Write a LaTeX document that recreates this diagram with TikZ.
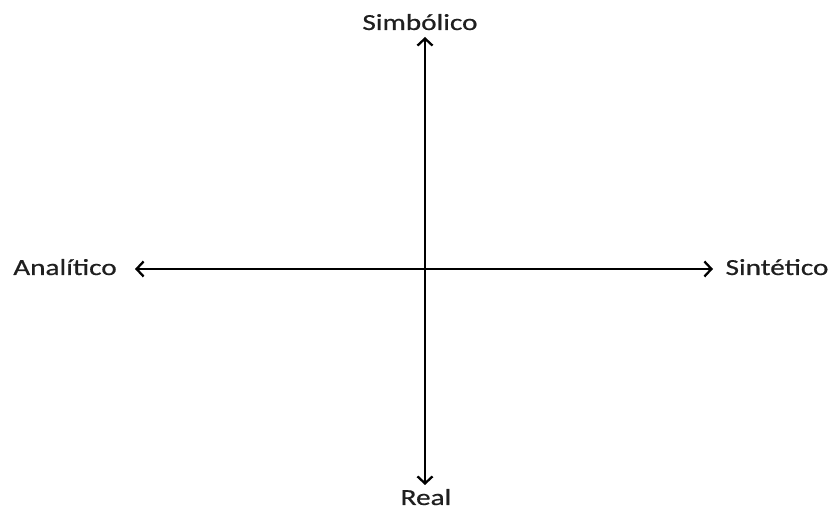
\documentclass[tikz,border=0pt]{standalone}
\usepackage{fontspec}
\setmainfont[FakeBold=0.6]{Carlito}
\usetikzlibrary{arrows.meta}
\tikzset{
  axis/.style={line width=1.9pt, {Straight Barb[length=7pt,width=15pt,line width=2.3pt]}-{Straight Barb[length=7pt,width=15pt,line width=2.3pt]}},
  lbl/.style={anchor=base, inner sep=0pt, font=\fontsize{23pt}{26pt}\selectfont, text=black!88}
}
\newcommand{\wide}[1]{\scalebox{1.27}[1]{#1}}
\begin{document}
\begin{tikzpicture}[x=1pt,y=1pt]
\useasboundingbox (0,0) rectangle (836,510);
\coordinate (top) at (425,473);
\coordinate (bot) at (425,25);
\coordinate (lft) at (135,241);
\coordinate (rgt) at (713,241);
\node[lbl] (simb) at (420,480) {\wide{Simbólico}};
\node[lbl] (anal) at (65,235) {\wide{Analítico}};
\node[lbl] (sint) at (777,235) {\wide{Sintético}};
\node[lbl] (real) at (426,5) {\wide{Real}};
\draw[axis] (bot) -- (top);
\draw[axis] (lft) -- (rgt);
\end{tikzpicture}
\end{document}
